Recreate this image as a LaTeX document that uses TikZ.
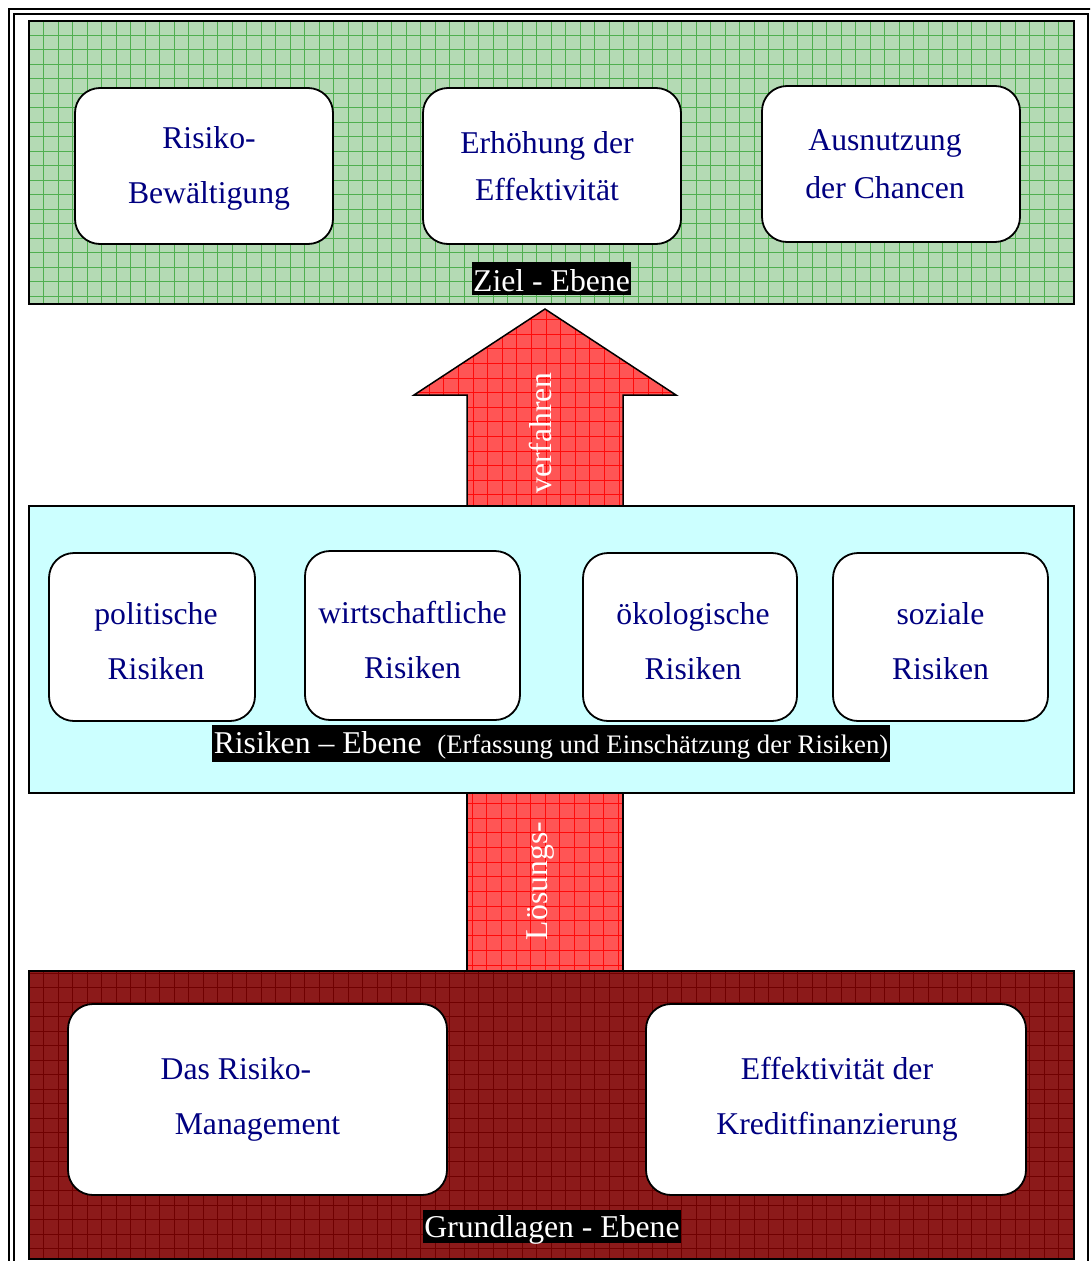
\documentclass[tikz,border=0pt]{standalone}
\usepackage{fontspec}
\setmainfont{Liberation Serif}
\definecolor{gfill}{RGB}{180,218,180}
\definecolor{gline}{RGB}{80,175,80}
\definecolor{cfill}{RGB}{204,255,255}
\definecolor{rfill}{RGB}{140,26,26}
\definecolor{rline}{RGB}{112,0,0}
\definecolor{afill}{RGB}{255,85,85}
\definecolor{aline}{RGB}{255,10,10}
\definecolor{navy}{RGB}{0,0,128}
\newcommand\bigfont{\fontsize{31.7pt}{55pt}\selectfont}
\newcommand\smallfont{\fontsize{26.7pt}{30pt}\selectfont}
\tikzset{
  panel/.style={anchor=north west, inner sep=0pt, outer sep=0pt},
  panelborder/.style={draw=black, line width=1.5pt},
  riskbox/.style={draw=black, line width=1.8pt, fill=white, rounded corners=25pt,
    font=\bigfont, text=navy, align=center, inner sep=0pt},
  levellabel/.style={fill=black, text=white, font=\bigfont, inner xsep=1.5pt, inner ysep=0pt},
  gridline/.style={line width=0.9pt},
  frameline/.style={draw=black, line width=2pt},
  arrowtext/.style={text=white, font=\bigfont, rotate=90, inner sep=0pt}
}
\begin{document}
\begin{tikzpicture}[x=1pt,y=-1pt]
\useasboundingbox (0,0) rectangle (1090,1261);
\clip (0,0) rectangle (1090,1261);
% outer page frame
\draw[frameline] (9,1280) -- (9,9) -- (1100,9);
\draw[frameline] (13.5,1280) -- (13.5,13.5) -- (1088,13.5) -- (1088,1280);

% ---- arrows (drawn first, panels over them)
\coordinate (a1) at (467,506);
\coordinate (a2) at (467,395);
\coordinate (a3) at (414,395);
\coordinate (a4) at (545,309);
\coordinate (a5) at (676,395);
\coordinate (a6) at (623,395);
\coordinate (a7) at (623,506);
\fill[afill] (a1) -- (a2) -- (a3) -- (a4) -- (a5) -- (a6) -- (a7) -- cycle;
\begin{scope}
  \clip (a1) -- (a2) -- (a3) -- (a4) -- (a5) -- (a6) -- (a7) -- cycle;
  \foreach \gx in {400,414.6,...,700} \draw[gridline,aline] (\gx,300) -- (\gx,510);
  \foreach \gy in {305,319.6,...,510} \draw[gridline,aline] (400,\gy) -- (700,\gy);
\end{scope}
\draw[line width=1.5pt, line join=miter] (a1) -- (a2) -- (a3) -- (a4) -- (a5) -- (a6) -- (a7);
\node[arrowtext] (verf) at (540,433) {verfahren};

\coordinate (b1) at (467,793);
\coordinate (b2) at (623,971);
\fill[afill] (b1) rectangle (b2);
\begin{scope}
  \clip (b1) rectangle (b2);
  \foreach \gx in {472.2,486.8,...,630} \draw[gridline,aline] (\gx,790) -- (\gx,975);
  \foreach \gy in {803.3,818,...,975} \draw[gridline,aline] (460,\gy) -- (630,\gy);
\end{scope}
\draw[line width=1.5pt] (b1) -- (b1 |- b2);
\draw[line width=1.5pt] (b2 |- b1) -- (b2);
\node[arrowtext] (loes) at (541,881) {Lösungs-};

% ---- Ziel panel
\node[panel, fill=gfill, minimum width=1045pt, minimum height=283pt] (ziel) at (29,21) {};
\begin{scope}
  \clip (ziel.north west) rectangle (ziel.south east);
  \foreach \gx in {29,43.5,...,1080} \draw[gridline,gline] (\gx,15) -- (\gx,310);
  \foreach \gy in {20.5,35,...,310} \draw[gridline,gline] (25,\gy) -- (1080,\gy);
\end{scope}
\draw[panelborder] (ziel.north west) rectangle (ziel.south east);

% ---- Risiken panel
\node[panel, fill=cfill, minimum width=1045pt, minimum height=287pt] (risiken) at (29,506) {};
\draw[panelborder] (risiken.north west) rectangle (risiken.south east);

% ---- Grundlagen panel
\node[panel, fill=rfill, minimum width=1045pt, minimum height=288pt] (grund) at (29,971) {};
\begin{scope}
  \clip (grund.north west) rectangle (grund.south east);
  \foreach \gx in {29,43.5,...,1080} \draw[gridline,rline] (\gx,965) -- (\gx,1265);
  \foreach \gy in {973,987.5,...,1265} \draw[gridline,rline] (25,\gy) -- (1080,\gy);
\end{scope}
\draw[panelborder] (grund.north west) rectangle (grund.south east);

% ---- top boxes
\node[riskbox, minimum width=258pt, minimum height=156pt, text height=81pt] (z1) at (204,166) {\hspace*{10pt}Risiko-\\\hspace*{10pt}Bewältigung};
\node[riskbox, minimum width=258pt, minimum height=156pt] (z2) at (552,166) {Erhöhung der\hspace*{10pt}\\[-8pt]Effektivität\hspace*{10pt}};
\node[riskbox, minimum width=258pt, minimum height=156pt] (z3) at (891,164) {Ausnutzung\hspace*{12pt}\\[-7pt]der Chancen\hspace*{12pt}};
\node[levellabel, text height=29pt, text depth=4pt] (zl) at (551.5,278.5) {Ziel - Ebene};

% ---- middle boxes
\tikzset{midtext/.style={text height=85.7pt}}
\node[riskbox, midtext, minimum width=206pt, minimum height=168pt] (r1) at (152,637) {\hspace*{8pt}politische\\\hspace*{8pt}Risiken};
\node[riskbox, midtext, minimum width=215pt, minimum height=169pt] (r2) at (412.5,635.5) {wirtschaftliche\\Risiken};
\node[riskbox, midtext, minimum width=214pt, minimum height=168pt] (r3) at (690,637) {\hspace*{6pt}ökologische\\\hspace*{6pt}Risiken};
\node[riskbox, midtext, minimum width=215pt, minimum height=168pt] (r4) at (940.5,637) {soziale\\Risiken};
\node[levellabel, text height=28pt, text depth=8.5pt] (rl) at (551,743.5) {Risiken – Ebene~ {\smallfont (Erfassung und Einschätzung der Risiken)}};

% ---- bottom boxes
\node[riskbox, minimum width=379pt, minimum height=191pt] (g1) at (257.5,1099.5) {Das Risiko-\hspace*{43pt}\\Management};
\node[riskbox, minimum width=380pt, minimum height=191pt] (g2) at (836,1099.5) {\hspace*{2pt}Effektivität der\\\hspace*{2pt}Kreditfinanzierung};
\node[levellabel, text height=27pt, text depth=6pt] (gl) at (552,1226.5) {Grundlagen - Ebene};
\end{tikzpicture}
\end{document}
